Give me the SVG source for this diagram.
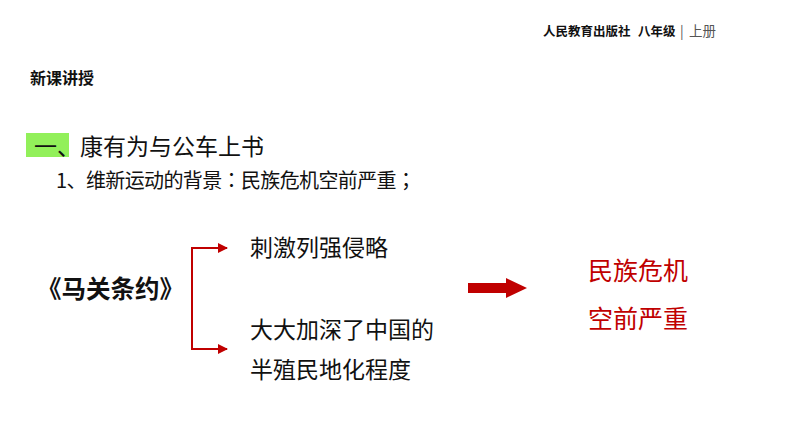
<svg xmlns="http://www.w3.org/2000/svg" width="794" height="447" viewBox="0 0 794 447">
<style>
text{font-family:"Noto Sans CJK SC","Noto Sans",sans-serif;fill:#111}
.hdr{font-size:12.5px;font-weight:bold}
.gray{fill:#555;font-weight:normal;font-size:13.5px}
.body{font-size:23px}
.red{fill:#C00000;font-size:25px}
.conn{stroke:#C00000;stroke-width:2;fill:none}
.tc{font-family:"Noto Sans CJK TC",sans-serif}
</style>
<defs>
<marker id="ah" viewBox="0 0 10 10" refX="9" refY="5" markerWidth="5" markerHeight="5" orient="auto" markerUnits="strokeWidth">
<path d="M0,0 L10,5 L0,10 z" fill="#C00000"/>
</marker>
</defs>
<rect width="794" height="447" fill="#fff"/>
<g id="header">
<text x="543" y="36" class="hdr">人民教育出版社</text>
<text x="638" y="36" class="hdr">八年级</text>
<text x="680" y="36" class="hdr gray">|</text>
<text x="689" y="36" class="hdr gray">上册</text>
</g>
<g id="section">
<text x="30" y="84" style="font-size:16px;font-weight:bold">新课讲授</text>
</g>
<g id="title">
<rect x="26" y="133" width="43" height="24" fill="#92F05A"/>
<text x="34" y="155" style="font-size:23px">一、康有为与公车上书</text>
<text x="56" y="188" style="font-size:20px" textLength="360" lengthAdjust="spacing">1、维新运动的背景<tspan class="tc">：</tspan>民族危机空前严重<tspan class="tc">；</tspan></text>
</g>
<g id="treaty">
<text x="37" y="298" style="font-size:24.5px;font-weight:bold">《马关条约》</text>
</g>
<g id="connectors">
<path class="conn" d="M192,248 V349"/>
<path class="conn" d="M191,248 H227" marker-end="url(#ah)"/>
<path class="conn" d="M191,349 H227" marker-end="url(#ah)"/>
<path d="M468,283 H506 V278 L527,288 L506,298 V293 H468 Z" fill="#C00000"/>
</g>
<g id="effect1">
<text x="250" y="256" class="body">刺激列强侵略</text>
</g>
<g id="effect2">
<text x="250" y="338" class="body">大大加深了中国的</text>
<text x="250" y="378" class="body">半殖民地化程度</text>
</g>
<g id="result">
<text x="588" y="280" class="red">民族危机</text>
<text x="588" y="328" class="red">空前严重</text>
</g>
</svg>
